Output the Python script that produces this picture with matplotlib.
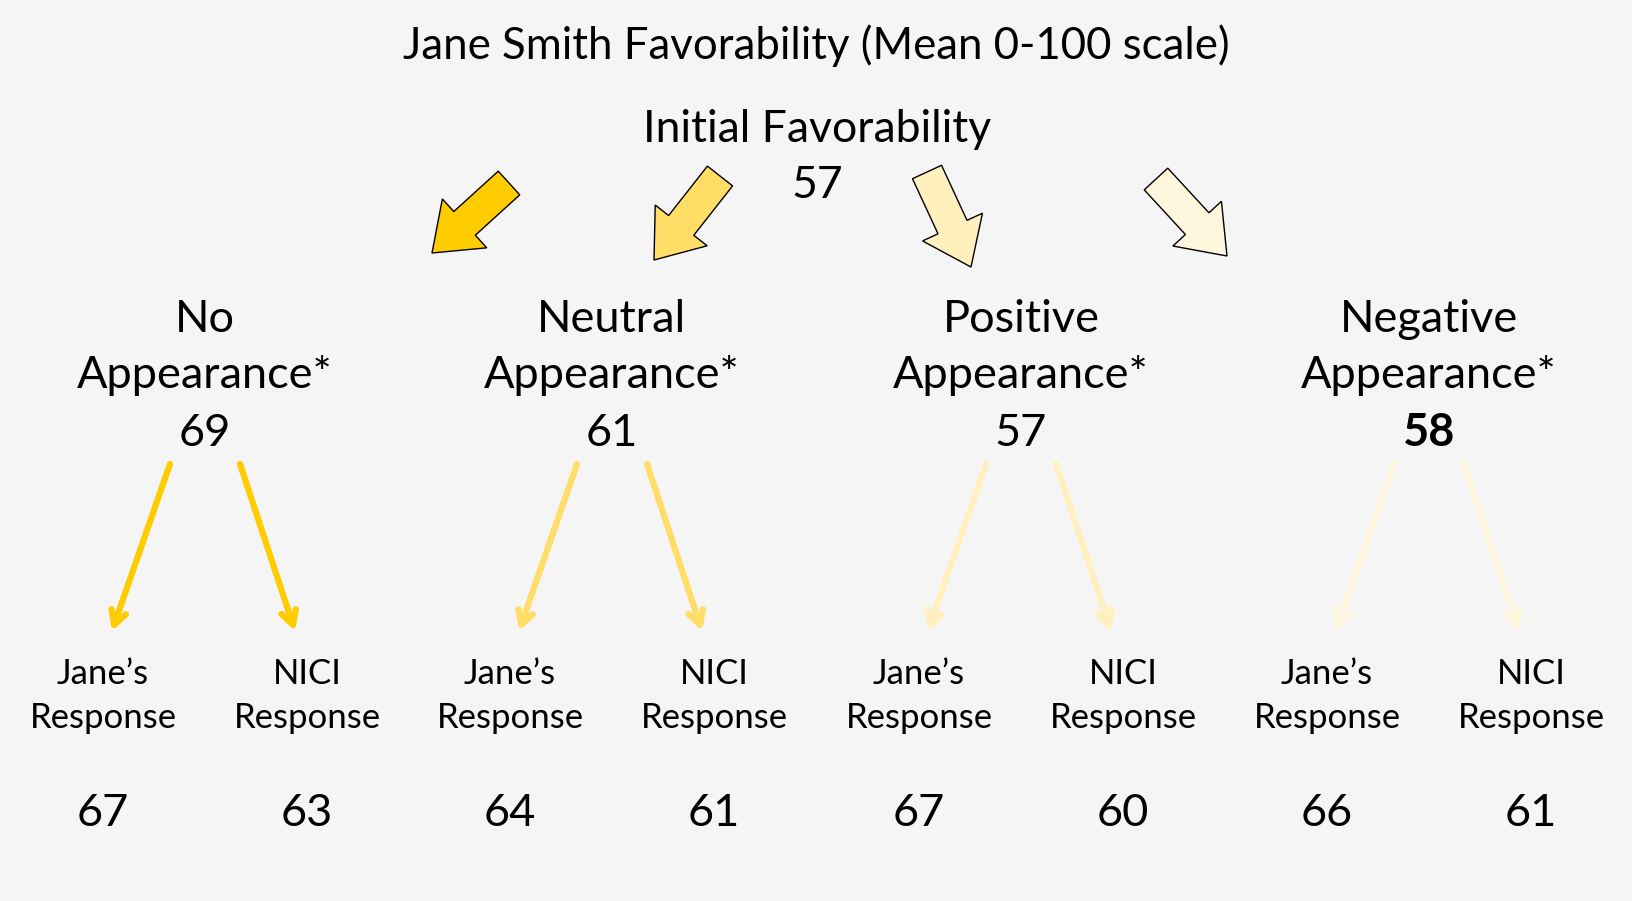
import matplotlib.pyplot as plt
from matplotlib.patches import FancyArrow

plt.rcParams['font.family'] = ['Lato', 'DejaVu Sans']

# data
initial_score = 57
conditions = ['No\nAppearance*', 'Neutral\nAppearance*', 'Positive\nAppearance*', 'Negative\nAppearance*']
condition_scores = [69, 61, 57, 58]
sub_labels = ['Jane\u2019s\nResponse', 'NICI\nResponse']
jane_scores = [67, 64, 67, 66]
nici_scores = [63, 61, 60, 61]
colors = ['#FFCC00', '#FFDD66', '#FFF0BE', '#FFF6DE']

W, H = 1633, 901
fig = plt.figure(figsize=(W / 100, H / 100), dpi=100)
fig.patch.set_facecolor('#F5F5F5')
ax = fig.add_axes([0, 0, 1, 1])
ax.set_xlim(0, W)
ax.set_ylim(H, 0)
ax.axis('off')

ax.text(816, 46, 'Jane Smith Favorability (Mean 0-100 scale)', ha='center', va='center', fontsize=31.5)
ax.text(817, 129, 'Initial Favorability', ha='center', va='center', fontsize=32)
ax.text(817, 185, str(initial_score), ha='center', va='center', fontsize=32)

# big block arrows from the initial score
block_tails = [(509, 183), (720, 176), (927, 172), (1156, 179)]
block_tips = [(432, 253), (654, 260), (971, 267), (1227, 256)]
for (x0, y0), (x1, y1), c in zip(block_tails, block_tips, colors):
    ax.add_patch(FancyArrow(x0, y0, x1 - x0, y1 - y0, width=32, head_width=66,
                            head_length=44, length_includes_head=True,
                            facecolor=c, edgecolor='black', lw=1))

centers = [205, 612, 1021, 1429]
for i, cx in enumerate(centers):
    l1, l2 = conditions[i].split('\n')
    ax.text(cx, 320, l1, ha='center', va='center', fontsize=32.5)
    ax.text(cx, 375, l2, ha='center', va='center', fontsize=32.5)
    ax.text(cx, 433, str(condition_scores[i]), ha='center', va='center', fontsize=32.5,
            fontweight='bold' if i == 3 else 'normal')

    # thin arrows
    for s, e in [(-35, -93), (35, 90)]:
        ax.annotate('', xy=(cx + e, 631), xytext=(cx + s, 464),
                    arrowprops=dict(arrowstyle='->,head_length=1.0,head_width=0.55',
                                    color=colors[i], lw=4.5, shrinkA=0, shrinkB=0,
                                    capstyle='round'))

    for j, (dx, v) in enumerate(zip([-102, 102], [jane_scores[i], nici_scores[i]])):
        a, b = sub_labels[j].split('\n')
        ax.text(cx + dx, 674, a, ha='center', va='center', fontsize=25)
        ax.text(cx + dx, 718, b, ha='center', va='center', fontsize=25)
        ax.text(cx + dx, 814, str(v), ha='center', va='center', fontsize=32.5)

fig.savefig('out.png', dpi=100, facecolor=fig.get_facecolor())
